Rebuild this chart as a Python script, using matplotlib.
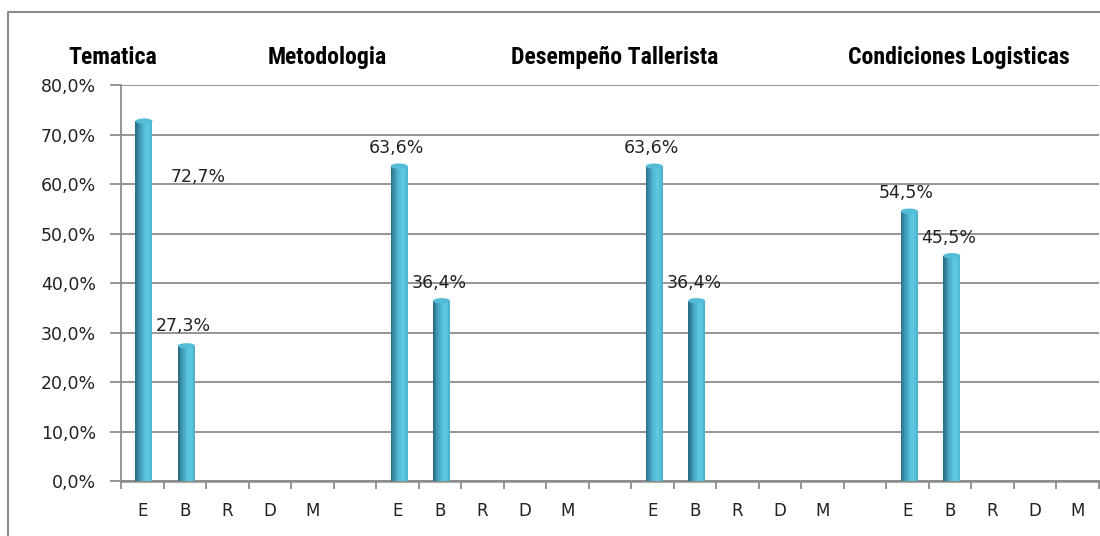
import matplotlib
matplotlib.use("Agg")
import matplotlib.pyplot as plt
from matplotlib.lines import Line2D
from matplotlib.ticker import FuncFormatter
from matplotlib import font_manager
import matplotlib.transforms as mtransforms
import numpy as np

# ---- data ----
groups = ['Tematica', 'Metodologia', 'Desempeño Tallerista', 'Condiciones Logisticas']
ratings = ['E', 'B', 'R', 'D', 'M']
tematica = [72.7, 27.3, 0, 0, 0]
metodologia = [63.6, 36.4, 0, 0, 0]
desempeno = [63.6, 36.4, 0, 0, 0]
condiciones = [54.5, 45.5, 0, 0, 0]
y_ticks = [0, 10, 20, 30, 40, 50, 60, 70, 80]

# ---- layout (not data) ----
title_x = [-0.69, 4.35, 11.1, 19.2]          # centres in category units
title_target_px = 220                        # width of the longest title
label_offsets = {(0, 0): (39, -40), (0, 1): (-2, 14)}  # points
default_offset = (-2, 13)

series = [tematica, metodologia, desempeno, condiciones]
slot_per_group = len(ratings) + 1
cats = []
xs = []
vals = []
for g, s in enumerate(series):
    for j, v in enumerate(s):
        xs.append(g * slot_per_group + j)
        vals.append(v)
        cats.append(ratings[j])
xs = np.array(xs, dtype=float)
vals = np.array(vals, dtype=float)
n_slots = len(series) * slot_per_group - 1

# find a narrow/condensed bold font if installed
title_fp = None
cands = []
for f in font_manager.fontManager.ttflist:
    name = (f.name + ' ' + f.fname).lower()
    if ('narrow' in name or 'condensed' in name) and 'italic' not in name and 'oblique' not in name:
        score = 0
        if 'bold' in name or (isinstance(f.weight, int) and f.weight >= 600) or f.weight == 'bold':
            score += 2
        if 'liberation' in name:
            score += 1
        cands.append((score, f.fname))
if cands:
    cands.sort(reverse=True)
    title_fp = font_manager.FontProperties(fname=cands[0][1])
else:
    title_fp = font_manager.FontProperties(family='Liberation Sans', weight='bold')

fig = plt.figure(figsize=(11, 5.36), dpi=100)
ax = fig.add_axes([0.110, 0.1026, 0.889, 0.7388])

ax.set_xlim(-0.5, n_slots - 0.5)
ax.set_ylim(0, 80)

ax.set_yticks(y_ticks)
ax.yaxis.grid(True, color='#8c8c8c', linewidth=1.3)
ax.set_axisbelow(True)

# cylinder-like bars: gradient strips
bw = 0.40
strip_colors = ['#2c7189', '#36849e', '#3f97b3', '#48a8c4', '#4fb4d0',
                '#56bfda', '#5cc5df', '#5ec6e0', '#59c0da', '#4fb3cd']
ns = len(strip_colors)
sw = bw / ns
for k, c in enumerate(strip_colors):
    ax.bar(xs + 0.04 - bw / 2 + sw * (k + 0.5), vals, width=sw * 1.02,
           color=c, linewidth=0, zorder=3)
for x, v in zip(xs, vals):
    if v > 0:
        ax.add_patch(matplotlib.patches.Ellipse((x + 0.04, v), bw, 1.1,
                     facecolor='#55bcd7', edgecolor='none', zorder=4))

# data labels
for g, s in enumerate(series):
    for j, v in enumerate(s):
        if v > 0:
            off = label_offsets.get((g, j), default_offset)
            ax.annotate(f"{v:.1f}%".replace('.', ','),
                        xy=(g * slot_per_group + j + 0.04, v),
                        xytext=off, textcoords='offset points',
                        ha='center', va='center', fontsize=12.5,
                        family='DejaVu Sans', color='#222222', zorder=5)

# group titles, sized so the longest matches the reference width
trans = mtransforms.blended_transform_factory(ax.transData, ax.transAxes)
title_texts = []
for t, tx in zip(groups, title_x):
    tt = ax.text(tx, 1.07, t, transform=trans, ha='center', va='center',
                 fontproperties=title_fp.copy(), color='black')
    tt.set_fontsize(20)
    title_texts.append(tt)
fig.canvas.draw()
r = fig.canvas.get_renderer()
w = max(tt.get_window_extent(r).width for tt in title_texts)
new_size = 20 * title_target_px / w
for tt in title_texts:
    tt.set_fontsize(new_size)

for sp in ['top', 'right']:
    ax.spines[sp].set_visible(False)
ax.spines['left'].set_color('#8c8c8c')
ax.spines['left'].set_linewidth(1.3)
ax.spines['bottom'].set_color('#8c8c8c')
ax.spines['bottom'].set_linewidth(1.8)

ax.yaxis.set_major_formatter(FuncFormatter(lambda v, p: f"{v:.1f}%".replace('.', ',')))
ax.tick_params(axis='y', length=8, color='#8c8c8c', width=1.3,
               labelsize=12.5, pad=10, labelcolor='#222222')

ax.set_xticks(np.arange(n_slots))
ax.set_xticklabels([cats[list(xs).index(i)] if i in xs else '' for i in range(n_slots)])
ax.tick_params(axis='x', which='major', length=0, pad=15, labelsize=12,
               labelcolor='#222222')
ax.set_xticks(np.arange(n_slots + 1) - 0.5, minor=True)
ax.tick_params(axis='x', which='minor', length=6, color='#8c8c8c', width=1.3)
for lab in ax.get_yticklabels() + ax.get_xticklabels():
    lab.set_family('DejaVu Sans')

fig.add_artist(Line2D([8 / 1100, 8 / 1100, 1.0], [0.0, 1 - 12 / 536, 1 - 12 / 536],
                      transform=fig.transFigure, color='#8c8c8c', linewidth=1.5))

fig.savefig('out.png', dpi=100, facecolor='white')
